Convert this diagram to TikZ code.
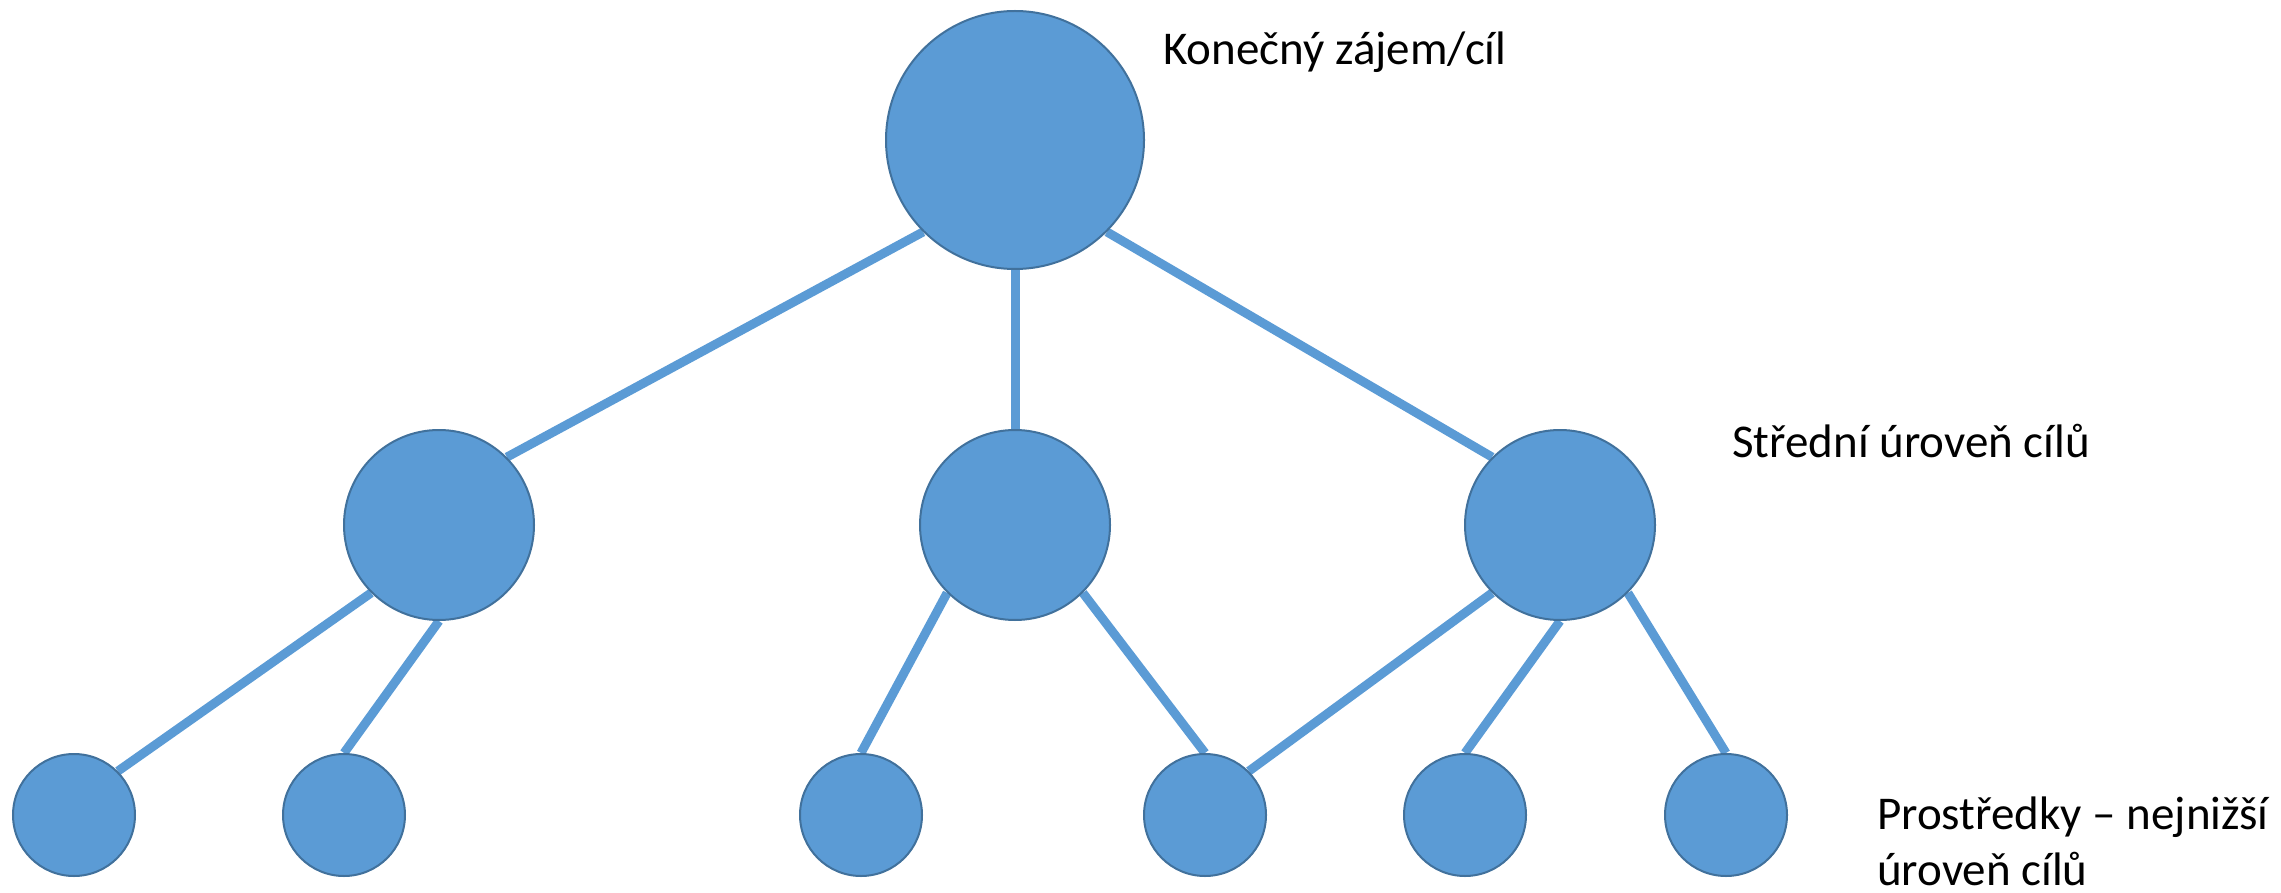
\documentclass[tikz,border=0pt]{standalone}
\usepackage{fontspec}
\setmainfont{Carlito}
\usetikzlibrary{backgrounds}
\definecolor{cfill}{HTML}{5B9BD5}
\definecolor{cborder}{HTML}{41719C}
\tikzset{
  goal/.style={circle, fill=cfill, draw=cborder, line width=2pt, inner sep=0pt},
  big/.style={goal, minimum size=258pt},
  mid/.style={goal, minimum size=190pt},
  small/.style={goal, minimum size=122pt},
  link/.style={draw=cfill, line width=9pt},
  lbl/.style={anchor=base west, inner sep=0pt, align=left, font=\fontsize{47}{56}\selectfont}
}
\begin{document}
\begin{tikzpicture}[x=1pt,y=-1pt]
\useasboundingbox (0,0) rectangle (2281,893);
\node[big] (T) at (1015,140) {};
\node[mid] (L) at (439,525) {};
\node[mid] (M) at (1015,525) {};
\node[mid] (R) at (1560,525) {};
\node[small] (b1) at (74,815) {};
\node[small] (b2) at (344,815) {};
\node[small] (b3) at (861,815) {};
\node[small] (b4) at (1205,815) {};
\node[small] (b5) at (1465,815) {};
\node[small] (b6) at (1726,815) {};
\begin{scope}[on background layer]
\draw[link] (T.south west) -- (L.north east);
\draw[link] (T.south) -- (M.north);
\draw[link] (T.south east) -- (R.north west);
\draw[link] (L.south west) -- (b1.north east);
\draw[link] (L.south) -- (b2.north);
\draw[link] (M.south west) -- (b3.north);
\draw[link] (M.south east) -- (b4.north);
\draw[link] (R.south west) -- (b4.north east);
\draw[link] (R.south) -- (b5.north);
\draw[link] (R.south east) -- (b6.north);
\end{scope}
\node[lbl] (t1) at (1163,65) {Konečný zájem/cíl};
\node[lbl] (t2) at (1732,457) {Střední úroveň cílů};
\node[lbl, text depth=0pt] (t3) at (1877,885) {Prostředky – nejnižší\\úroveň cílů};
\end{tikzpicture}
\end{document}
